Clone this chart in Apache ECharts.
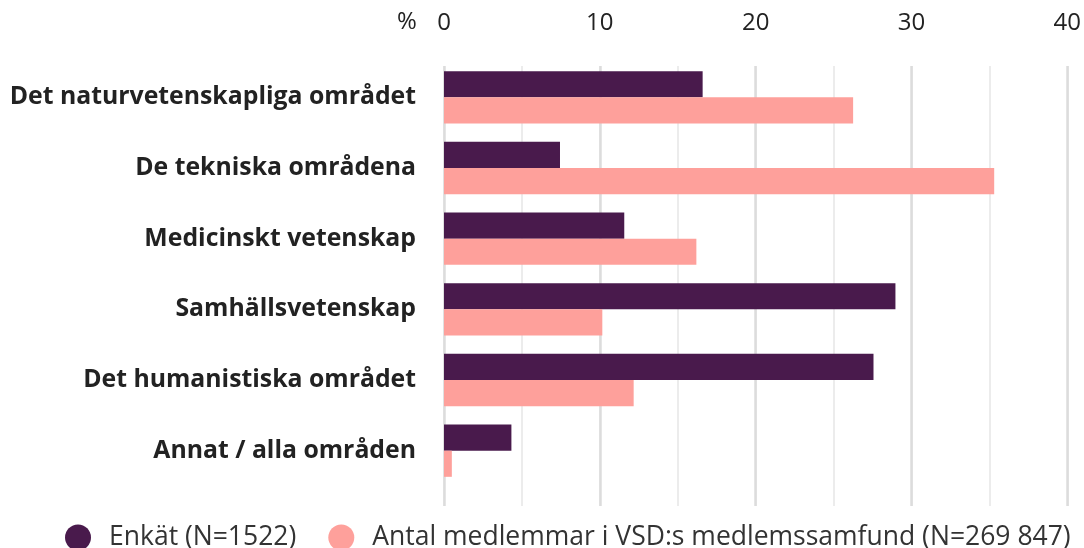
<!DOCTYPE html>
<html><head><meta charset="utf-8">
<script src="https://cdn.jsdelivr.net/npm/echarts@6/dist/echarts.min.js"></script>
<style>html,body{margin:0;padding:0;background:#fff}#c{width:1084px;height:548px}</style>
</head><body><div id="c"></div>
<script>
const categories = ['Det naturvetenskapliga området','De tekniska områdena','Medicinskt vetenskap','Samhällsvetenskap','Det humanistiska området','Annat / alla områden'];
const enkat = [16.5, 7.4, 11.5, 28.8, 27.4, 4.3];
const medlemmar = [26.1, 35.1, 16.1, 10.1, 12.1, 0.5];
const seriesNames = ['Enkät (N=1522)', 'Antal medlemmar i VSD:s medlemssamfund (N=269 847)'];
const xMin = 0, xMax = 40;

const font = 'Open Sans';
const chart = echarts.init(document.getElementById('c'), null, {renderer:'canvas'});
chart.setOption({
  animation: false,
  textStyle: {fontFamily: font},
  title: {text: '%', left: 392, top: 5, padding: 5, textStyle: {fontFamily: font, fontSize: 24, fontWeight: 'normal', color: '#222'}},
  grid: [
    {left: 444, right: 13, top: 62, bottom: 62},
    {left: 444, right: 13, top: 66, bottom: 42}
  ],
  legend: {
    top: 519, left: 60, itemWidth: 26, itemHeight: 26, itemGap: 32, icon: 'circle',
    textStyle: {fontFamily: font, fontSize: 26.5, color: '#333', padding: [0,0,0,13]},
    data: seriesNames
  },
  xAxis: [
    {gridIndex: 0, type: 'value', min: xMin, max: xMax, show: false},
    {gridIndex: 1, type: 'value', min: xMin, max: xMax, interval: 5, position: 'bottom',
     axisLine: {show: false}, axisTick: {show: false}, axisLabel: {show: false},
     splitLine: {show: true, lineStyle: {color: '#e6e6e6', width: 1.5}}},
    {gridIndex: 1, type: 'value', min: xMin, max: xMax, interval: 10, position: 'top',
     axisLine: {show: false}, axisTick: {show: false},
     axisLabel: {margin: 31, fontSize: 24, color: '#222', fontFamily: font},
     splitLine: {show: true, lineStyle: {color: '#dcdcdc', width: 2.5}}}
  ],
  yAxis: [
    {gridIndex: 0, type: 'category', data: categories, inverse: true,
     axisLine: {show: false}, axisTick: {show: false},
     axisLabel: {margin: 28, fontSize: 24.8, fontWeight: 'bold', color: '#222', fontFamily: font}},
    {gridIndex: 1, type: 'category', data: [''], show: false}
  ],
  series: [
    {name: seriesNames[0], type: 'bar', xAxisIndex: 0, yAxisIndex: 0, data: enkat,
     itemStyle: {color: '#491a4c'}, barGap: '0%', barCategoryGap: '26%', z: 5},
    {name: seriesNames[1], type: 'bar', xAxisIndex: 0, yAxisIndex: 0, data: medlemmar,
     itemStyle: {color: '#fea09b'}, barGap: '0%', barCategoryGap: '26%', z: 5}
  ]
});
</script></body></html>
